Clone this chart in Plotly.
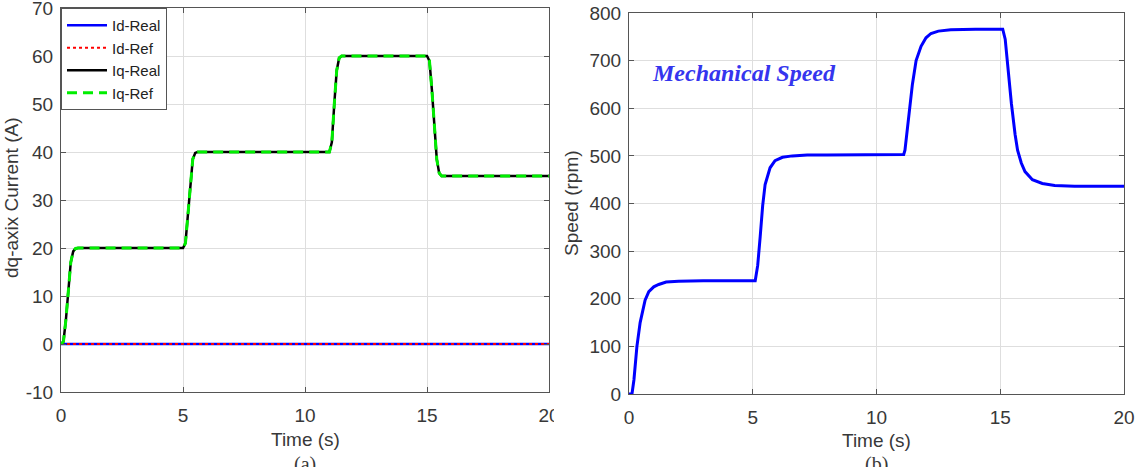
import plotly.graph_objects as go

# ---- data ----
t_iq = [0, 0.1, 0.2, 0.3, 0.4, 0.5, 0.6, 0.7,
        5.0, 5.1, 5.2, 5.3, 5.4, 5.5, 5.6,
        11.0, 11.1, 11.2, 11.3, 11.4, 11.5,
        15.0, 15.1, 15.2, 15.3, 15.4, 15.5, 15.6, 20]
iq_real = [0, 0.5, 5, 12, 17, 19.3, 19.9, 20,
           20, 21, 27, 34, 38.5, 39.8, 40,
           40, 42, 50, 57, 59.6, 60,
           60, 59, 53, 45, 38.5, 35.6, 35, 35]
iq_ref = list(iq_real)

t_id = [0, 20]
id_real = [0, 0]
id_ref = [0, 0]

t_sp = [0, 0.12, 0.2, 0.32, 0.45, 0.65, 0.8, 1.0, 1.2, 1.5, 2.0, 3.0,
        5.1, 5.2, 5.3, 5.4, 5.5, 5.7, 5.9, 6.2, 6.6, 7.2, 8.0,
        11.1, 11.15, 11.3, 11.45, 11.6, 11.8, 12.0, 12.2, 12.5, 13.0, 14.0,
        15.1, 15.2, 15.3, 15.45, 15.6, 15.7, 15.85, 16.0, 16.3, 16.7, 17.2, 18.0, 20]
speed = [0, 0, 30, 100, 150, 197, 215, 225, 230, 235, 237, 238,
         238, 270, 330, 395, 440, 475, 490, 497, 500, 502, 502,
         503, 512, 580, 650, 700, 730, 748, 757, 762, 765, 766,
         766, 745, 690, 610, 545, 512, 485, 467, 450, 442, 438, 436, 436]

x_ticks = [0, 5, 10, 15, 20]
x_tick_labels = ["0", "5", "10", "15", "20"]
iq_ticks = list(range(-10, 71, 10))
iq_tick_labels = ["-10", "0", "10", "20", "30", "40", "50", "60", "70"]
sp_ticks = list(range(0, 801, 100))
sp_tick_labels = [str(v) for v in sp_ticks]

FONT = "Liberation Sans, Arial, sans-serif"
SERIF = "Liberation Serif, Times New Roman, serif"
TXT = "#383838"
TICK_SIZE = 19
TITLE_SIZE = 19

fig = go.Figure()

fig.add_trace(go.Scatter(x=t_id, y=id_real, mode="lines", name="Id-Real",
                         line=dict(color="#0000ff", width=2.5), xaxis="x", yaxis="y"))
fig.add_trace(go.Scatter(x=t_id, y=id_ref, mode="lines", name="Id-Ref",
                         line=dict(color="#ff0000", width=2, dash="dot"), xaxis="x", yaxis="y"))
fig.add_trace(go.Scatter(x=t_iq, y=iq_real, mode="lines", name="Iq-Real",
                         line=dict(color="#000000", width=2.5), xaxis="x", yaxis="y"))
fig.add_trace(go.Scatter(x=t_iq, y=iq_ref, mode="lines", name="Iq-Ref",
                         line=dict(color="#00ee00", width=3, dash="10px,6px"), xaxis="x", yaxis="y"))
fig.add_trace(go.Scatter(x=t_sp, y=speed, mode="lines", name="Speed", showlegend=False,
                         line=dict(color="#0000ff", width=3), xaxis="x2", yaxis="y2"))

W, H = 1135, 467
def px_x(p): return p / W
def px_y(p): return 1 - p / H

axis_common = dict(showline=True, linecolor="#555555", linewidth=1, mirror="ticks",
                   ticks="inside", ticklen=5, tickcolor="#555555", automargin=False,
                   ticklabeloverflow="allow",
                   showgrid=True, gridcolor="#dedede", gridwidth=1, zeroline=False,
                   tickfont=dict(family=FONT, size=TICK_SIZE, color=TXT))

fig.update_layout(
    width=W, height=H,
    margin=dict(l=0, r=0, t=0, b=0),
    paper_bgcolor="white", plot_bgcolor="white",
    font=dict(family=FONT, size=TICK_SIZE, color=TXT),
    xaxis=dict(domain=[px_x(61), px_x(549)], range=[0, 20], tickvals=x_ticks,
               ticktext=x_tick_labels, ticklabelstandoff=6, anchor="y", **axis_common),
    yaxis=dict(domain=[px_y(392), px_y(8)], range=[-10, 70], tickvals=iq_ticks,
               ticktext=iq_tick_labels, ticklabelstandoff=3, anchor="x", **axis_common),
    xaxis2=dict(domain=[px_x(629), px_x(1124)], range=[0, 20], tickvals=x_ticks,
                ticktext=x_tick_labels, ticklabelstandoff=6, anchor="y2", **axis_common),
    yaxis2=dict(domain=[px_y(394), px_y(13)], range=[0, 800], tickvals=sp_ticks,
                ticktext=sp_tick_labels, ticklabelstandoff=3, anchor="x2", **axis_common),
    legend=dict(x=px_x(61), y=px_y(8), xanchor="left", yanchor="top",
                bgcolor="white", bordercolor="#555555", borderwidth=1,
                font=dict(family=FONT, size=15, color="#222222"),
                tracegroupgap=0, itemwidth=40),
    showlegend=True,
)

def ann(x, y, text, size, angle=0, family=FONT, color=TXT):
    fig.add_annotation(x=px_x(x), y=px_y(y), xref="paper", yref="paper",
                       xanchor="center", yanchor="middle", text=text, showarrow=False,
                       textangle=angle, font=dict(family=family, size=size, color=color))

ann(305, 439, "Time (s)", TITLE_SIZE)
ann(876, 440, "Time (s)", TITLE_SIZE)
ann(11, 198, "dq-axix Current (A)", TITLE_SIZE, angle=-90)
ann(572, 203, "Speed (rpm)", TITLE_SIZE, angle=-90)
ann(305, 464, "(a)", 20, family=SERIF)
ann(876, 464, "(b)", 20, family=SERIF)

fig.add_annotation(x=0.85, y=674, xref="x2", yref="y2", xanchor="left", yanchor="middle",
                   text="<b><i>Mechanical Speed</i></b>", showarrow=False,
                   font=dict(family=SERIF, size=24, color="#3535ee"))

# the left panel's last tick label is cut off by the neighbouring panel in the original
fig.add_shape(type="rect", xref="paper", yref="paper", layer="above",
              x0=px_x(554), x1=px_x(575), y0=px_y(422), y1=px_y(398),
              fillcolor="white", line=dict(width=0))

fig.write_html("out.html")
